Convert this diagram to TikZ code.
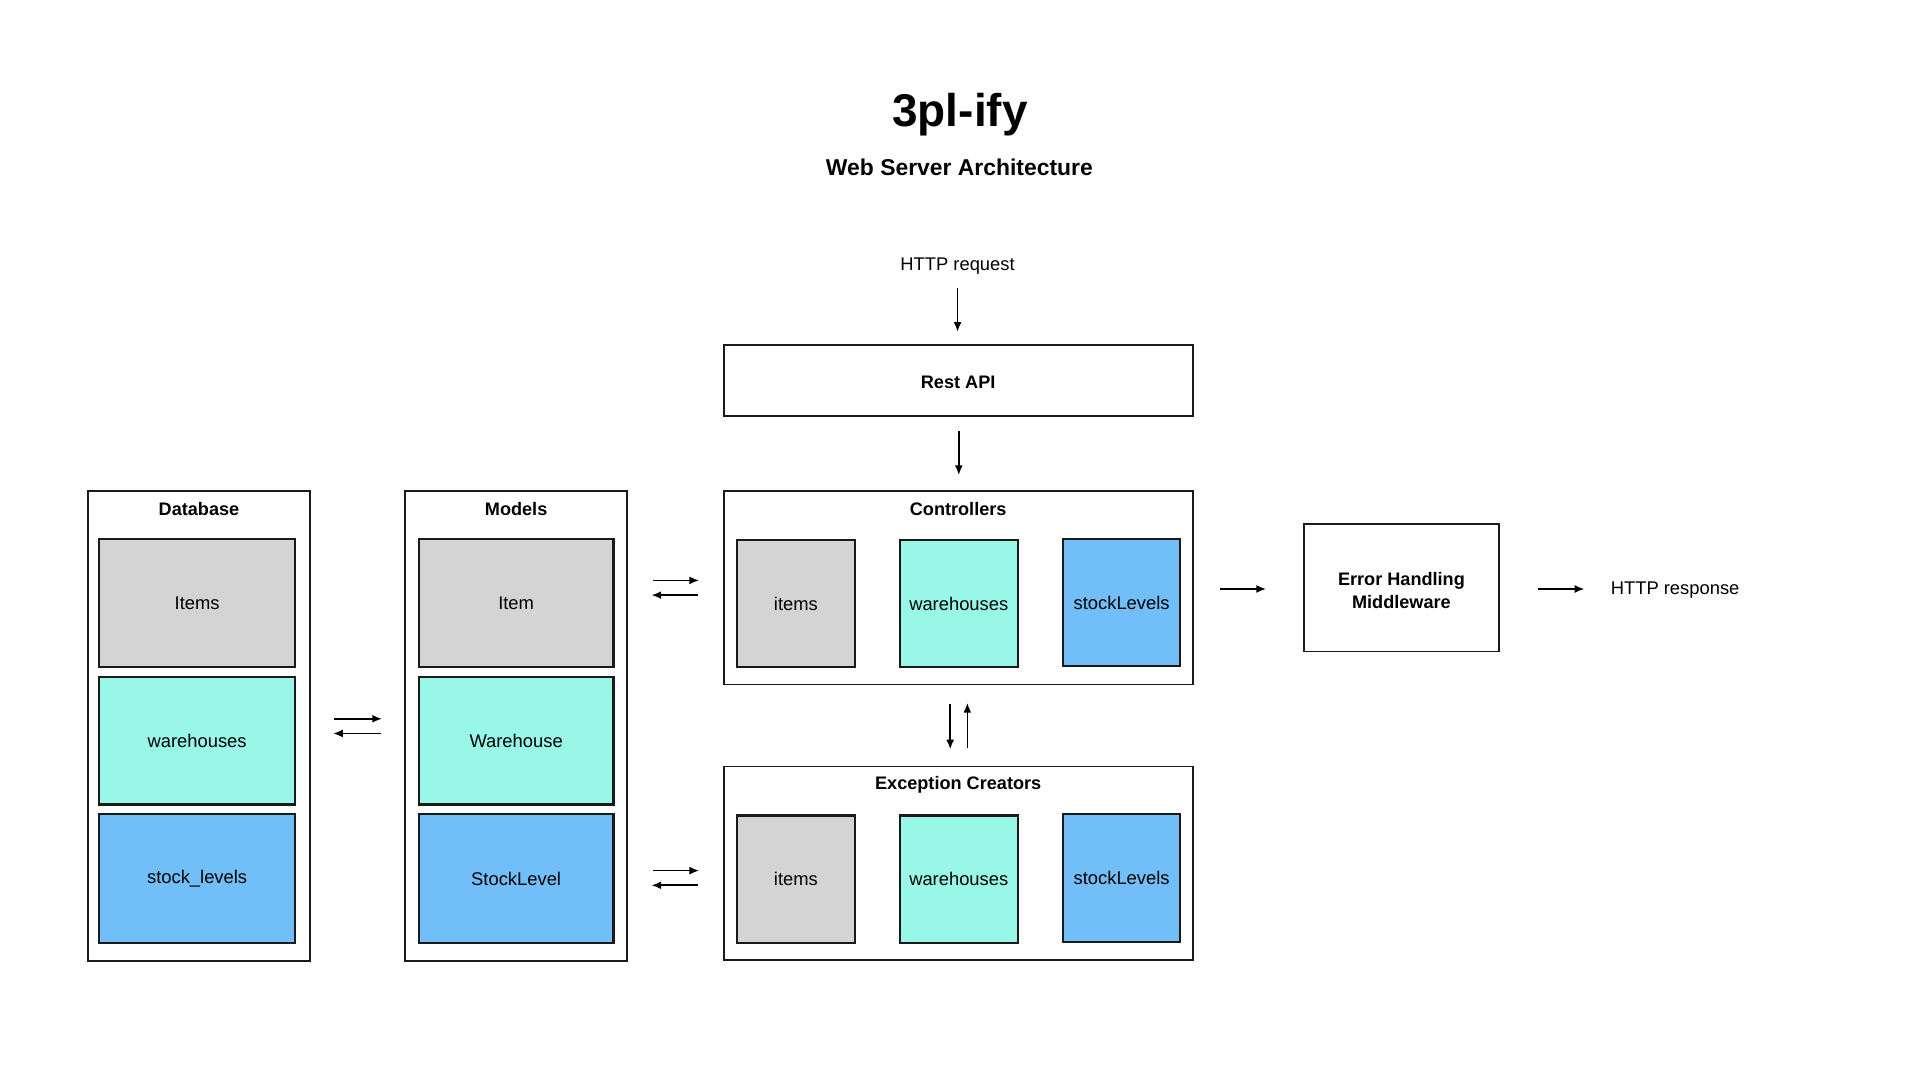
\documentclass[tikz,border=0pt]{standalone}
\usepackage{fontspec}
\setmainfont{Liberation Sans}
\usetikzlibrary{arrows.meta}
\definecolor{cgray}{HTML}{D4D4D4}
\definecolor{cteal}{HTML}{98F7E7}
\definecolor{cblue}{HTML}{72BEF8}
\definecolor{cline}{HTML}{1A1A1A}
\begin{document}
\begin{tikzpicture}[x=1pt,y=-1pt,
  txt/.style={font=\fontsize{15}{17}\selectfont, inner sep=0pt},
  btxt/.style={font=\bfseries\fontsize{14.8}{17}\selectfont, inner sep=0pt, align=center},
  frame/.style={draw=cline, line width=1.5pt, inner sep=0pt, fill=white},
  cell/.style={draw=cline, line width=1.7pt, inner sep=0pt, font=\fontsize{15}{17}\selectfont},
  gcell/.style={cell, fill=cgray},
  tcell/.style={cell, fill=cteal},
  bcell/.style={cell, fill=cblue},
  arr/.style={-{Latex[length=8pt,width=6.5pt]}, line width=1.4pt, draw=black}
]
\useasboundingbox[fill=white] (0,0) rectangle (1568,882);

% titles
\node[font=\bfseries\fontsize{37.5}{44}\selectfont, inner sep=0pt] (title) at (784,93.5) {3pl-ify};
\node[font=\bfseries\fontsize{18.7}{22}\selectfont, inner sep=0pt] (subtitle) at (783.5,137) {Web Server Architecture};

% request / response
\node[txt] (req) at (782,217) {HTTP request};
\node[frame, minimum width=383pt, minimum height=58pt] (api) at (782.5,311) {};
\node[btxt] (apit) at (782.5,312) {Rest API};

% Database
\node[frame, minimum width=181pt, minimum height=384pt] (db) at (162.5,593) {};
\node[btxt] (dbt) at (162.5,416) {Database};
\node[gcell, minimum width=160pt, minimum height=105pt] (dbitems) at (161,492.5) {Items};
\node[tcell, minimum width=160pt, minimum height=104pt] (dbwh) at (161,605) {warehouses};
\node[bcell, minimum width=160pt, minimum height=105pt] (dbsl) at (161,717.5) {stock\_levels};

% Models
\node[frame, minimum width=181pt, minimum height=384pt] (mod) at (421.5,593) {};
\node[btxt] (modt) at (421.5,416) {Models};
\node[gcell, minimum width=159pt, minimum height=105pt] (moditem) at (421.5,492.5) {Item};
\node[tcell, minimum width=159pt, minimum height=104pt] (modwh) at (421.5,605) {Warehouse};
\node[bcell, minimum width=159pt, minimum height=105pt] (modsl) at (421.5,717.5) {StockLevel};

% Controllers
\node[frame, minimum width=383pt, minimum height=158pt] (ctrl) at (782.5,480) {};
\node[btxt] (ctrlt) at (782.5,416) {Controllers};
\node[gcell, minimum width=96pt, minimum height=104pt] (ci) at (650,493) {items};
\node[tcell, minimum width=96pt, minimum height=104pt] (cw) at (783,493) {warehouses};
\node[bcell, minimum width=96pt, minimum height=104pt] (cs) at (916,492) {stockLevels};

% Exception Creators
\node[frame, minimum width=383pt, minimum height=158pt] (exc) at (782.5,705) {};
\node[btxt] (exct) at (782.5,641) {Exception Creators};
\node[gcell, minimum width=96pt, minimum height=104pt] (ei) at (650,718) {items};
\node[tcell, minimum width=96pt, minimum height=104pt] (ew) at (783,718) {warehouses};
\node[bcell, minimum width=96pt, minimum height=104pt] (es) at (916,717) {stockLevels};

% Error handling
\node[frame, minimum width=159pt, minimum height=104pt] (ehm) at (1144.5,480) {};
\node[btxt, font=\bfseries\fontsize{14.8}{19}\selectfont] (ehmt) at (1144.5,482) {Error Handling\\Middleware};
\node[txt] (resp) at (1368,482) {HTTP response};

% arrow end points
\coordinate (r1) at (782,235); \coordinate (r2) at (782,271);
\coordinate (a1) at (783,352); \coordinate (a2) at (783,388);
\coordinate (dm1) at (273,587); \coordinate (dm2) at (312,587);
\coordinate (md1) at (311,599); \coordinate (md2) at (272,599);
\coordinate (mc1) at (533,474); \coordinate (mc2) at (571,474);
\coordinate (cm1) at (570,486); \coordinate (cm2) at (532,486);
\coordinate (me1) at (533,711); \coordinate (me2) at (571,711);
\coordinate (em1) at (570,723); \coordinate (em2) at (532,723);
\coordinate (ce1) at (776,575); \coordinate (ce2) at (776,612);
\coordinate (ec1) at (790,611); \coordinate (ec2) at (790,574);
\coordinate (ch1) at (996,481); \coordinate (ch2) at (1034,481);
\coordinate (hr1) at (1256,481); \coordinate (hr2) at (1294,481);

\draw[arr] (r1) -- (r2);
\draw[arr] (a1) -- (a2);
\draw[arr] (dm1) -- (dm2);
\draw[arr] (md1) -- (md2);
\draw[arr] (mc1) -- (mc2);
\draw[arr] (cm1) -- (cm2);
\draw[arr] (me1) -- (me2);
\draw[arr] (em1) -- (em2);
\draw[arr] (ce1) -- (ce2);
\draw[arr] (ec1) -- (ec2);
\draw[arr] (ch1) -- (ch2);
\draw[arr] (hr1) -- (hr2);
\end{tikzpicture}
\end{document}
